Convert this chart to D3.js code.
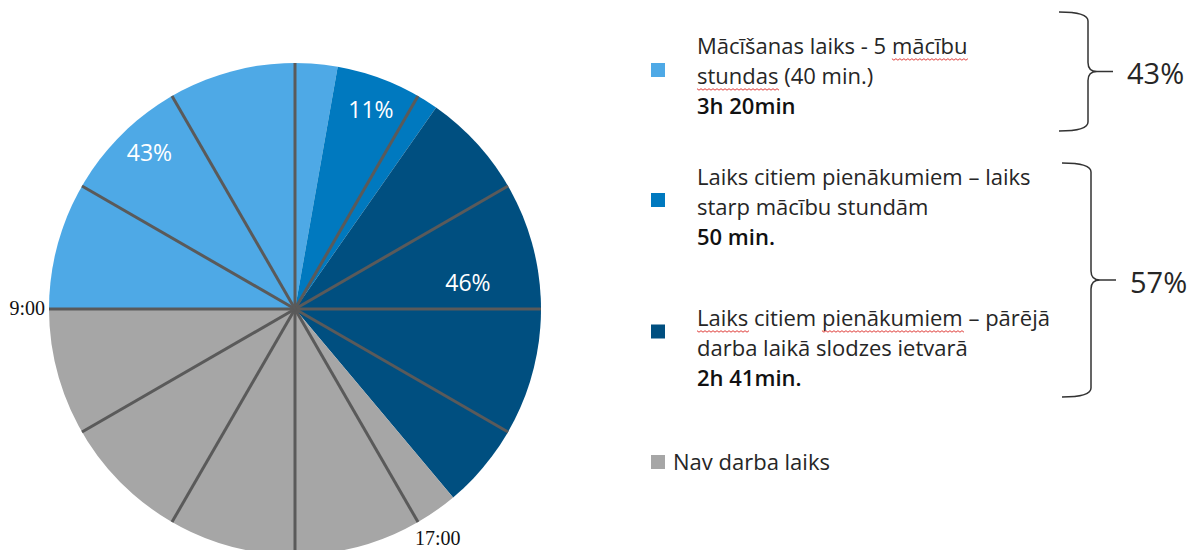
<!DOCTYPE html>
<meta charset="utf-8">
<head>
<style>
body { margin: 0; background: #fff; }
.slice-label { font-family: "Open Sans"; font-size: 23px; fill: #fff; text-anchor: middle; dominant-baseline: central; }
.time-label { font-family: "Liberation Serif"; font-size: 20px; fill: #111; }
.legend-text { font-family: "Open Sans"; font-size: 22px; fill: #262626; }
.legend-time { font-family: "Open Sans"; font-size: 22px; font-weight: 600; fill: #111; }
.brace { fill: none; stroke: #333; stroke-width: 1.5px; }
.brace-label { font-family: "Open Sans"; font-size: 29px; fill: #262626; dominant-baseline: central; }
.hour-line { stroke: #5a5a5a; stroke-width: 3px; }
.squiggle { fill: none; stroke: #e0403c; stroke-width: 1px; }
</style>
</head>
<body>
<script src="https://cdn.jsdelivr.net/npm/d3@7"></script>
<div id="chart"></div>
<script>

// slices on a 12 hour dial, starting at 9:00, in minutes
var sliceMinutes = [200, 50, 210, 260];
var sliceColors = ["#4ea9e6", "#0079bf", "#004f80", "#a6a6a6"];
var sliceLabels = ["43%", "11%", "46%", ""];
var startHour = 9;
var clockHours = d3.range(12);
var timeMarks = [9, 17];
var timeLabels = ["9:00", "17:00"];

// legend, words between _ _ carry the spell-check squiggle
var legendColors = ["#4ea9e6", "#0079bf", "#004f80"];
var legendLines = [
  ["Mācīšanas laiks - 5 _mācību_", "_stundas_ (40 min.)"],
  ["Laiks citiem pienākumiem – laiks", "starp mācību stundām"],
  ["_Laiks_ citiem _pienākumiem_ – pārējā", "darba laikā slodzes ietvarā"]
];
var legendTimes = ["3h 20min", "50 min.", "2h 41min."];
var otherLabel = "Nav darba laiks";
var otherColor = "#a6a6a6";
var braceLabels = ["43%", "57%"];

var width = 1191, height = 550;
var cx = 295, cy = 309, radius = 246;

var svg = d3.select("#chart").append("svg")
    .attr("width", width)
    .attr("height", height);

var hourAngle = d3.scaleLinear().domain([0, 12]).range([0, 2 * Math.PI]);

var pie = d3.pie()
    .sort(null)
    .startAngle(hourAngle(startHour))
    .endAngle(hourAngle(startHour) + 2 * Math.PI);

var arc = d3.arc().innerRadius(0).outerRadius(radius);

var g = svg.append("g").attr("transform", "translate(" + cx + "," + cy + ")");
var arcs = pie(sliceMinutes);

g.selectAll(".slice")
    .data(arcs)
  .enter().append("path")
    .attr("class", "slice")
    .attr("d", arc)
    .attr("fill", function(d, i) { return sliceColors[i]; });

function pt(a, r) { return [r * Math.sin(a), -r * Math.cos(a)]; }

g.selectAll(".hour-line")
    .data(clockHours)
  .enter().append("line")
    .attr("class", "hour-line")
    .attr("x1", 0).attr("y1", 0)
    .attr("x2", function(h) { return pt(hourAngle(h), radius)[0]; })
    .attr("y2", function(h) { return pt(hourAngle(h), radius)[1]; });

// percent labels
var labelRadius = [214, 214, 175];
var labelShift = [-0.05, -0.03, -0.11];
g.selectAll(".slice-label")
    .data(arcs.filter(function(d, i) { return sliceLabels[i]; }))
  .enter().append("text")
    .attr("class", "slice-label")
    .attr("transform", function(d, i) {
      var a = (d.startAngle + d.endAngle) / 2 + labelShift[i];
      var p = pt(a, labelRadius[i]);
      return "translate(" + p[0] + "," + p[1] + ")";
    })
    .text(function(d, i) { return sliceLabels[i]; });

// time marks on the rim
g.selectAll(".time-label")
    .data(timeMarks)
  .enter().append("text")
    .attr("class", "time-label")
    .attr("text-anchor", function(h, i) { return i === 0 ? "end" : "start"; })
    .attr("x", function(h, i) { return pt(hourAngle(h % 12), radius)[0] + (i === 0 ? -4 : -3); })
    .attr("y", function(h, i) { return pt(hourAngle(h % 12), radius)[1] + (i === 0 ? 6 : 23); })
    .text(function(h, i) { return timeLabels[i]; });

// legend
var legendX = 697, squareX = 651, sq = 14;
var entryTop = [46, 177, 318];
var squareY = [70, 200, 331.5];
var lineGap = 30;
var legend = svg.append("g");

legendLines.forEach(function(lines, i) {
  legend.append("rect")
      .attr("x", squareX).attr("y", squareY[i] - sq / 2)
      .attr("width", sq).attr("height", sq)
      .attr("fill", legendColors[i]);
  lines.forEach(function(line, j) {
    var t = legend.append("text")
        .attr("class", "legend-text")
        .attr("x", legendX)
        .attr("y", entryTop[i] + j * lineGap)
        .attr("dy", "0.35em");
    line.split(/(_[^_]+_)/).forEach(function(part) {
      if (!part) return;
      var marked = part.charAt(0) === "_";
      t.append("tspan")
          .attr("class", marked ? "marked" : null)
          .text(marked ? part.slice(1, -1) : part);
    });
  });
  legend.append("text")
      .attr("class", "legend-time")
      .attr("x", legendX)
      .attr("y", entryTop[i] + 2 * lineGap)
      .attr("dy", "0.35em")
      .text(legendTimes[i]);
});

legend.append("rect")
    .attr("x", squareX).attr("y", 462 - sq / 2)
    .attr("width", sq).attr("height", sq)
    .attr("fill", otherColor);
legend.append("text")
    .attr("class", "legend-text")
    .attr("x", 673).attr("y", 462).attr("dy", "0.35em")
    .text(otherLabel);

// spell-check squiggles
legend.selectAll("tspan.marked").each(function() {
  var n = this.getNumberOfChars();
  if (!n) return;
  var x0 = this.getStartPositionOfChar(0).x;
  var x1 = this.getEndPositionOfChar(n - 1).x;
  var y = this.getStartPositionOfChar(0).y + 5;
  var d = "M" + x0 + "," + y;
  for (var x = x0, k = 0; x < x1; x += 2, k++) d += "L" + (x + 2) + "," + (y + (k % 2 ? 0 : 1.5));
  legend.append("path").attr("class", "squiggle").attr("d", d);
});

// braces
var braces = [
  {top: 12, bottom: 131, x0: 1059, spine: 1088, tip: 1113},
  {top: 163, bottom: 397, x0: 1062, spine: 1091, tip: 1116}
];
function bracePath(b) {
  var m = (b.top + b.bottom) / 2, c = 9;
  return "M" + b.x0 + "," + b.top +
    "Q" + b.spine + "," + b.top + " " + b.spine + "," + (b.top + c) +
    "L" + b.spine + "," + (m - c) +
    "Q" + b.spine + "," + m + " " + (b.spine + c) + "," + m +
    "L" + b.tip + "," + m +
    "M" + (b.spine + c) + "," + m +
    "Q" + b.spine + "," + m + " " + b.spine + "," + (m + c) +
    "L" + b.spine + "," + (b.bottom - c) +
    "Q" + b.spine + "," + b.bottom + " " + b.x0 + "," + b.bottom;
}
svg.selectAll(".brace")
    .data(braces)
  .enter().append("path")
    .attr("class", "brace")
    .attr("d", bracePath);
svg.selectAll(".brace-label")
    .data(braces)
  .enter().append("text")
    .attr("class", "brace-label")
    .attr("x", function(b) { return b.tip + 14; })
    .attr("y", function(b) { return (b.top + b.bottom) / 2 + 1; })
    .text(function(b, i) { return braceLabels[i]; });

</script>
</body>
